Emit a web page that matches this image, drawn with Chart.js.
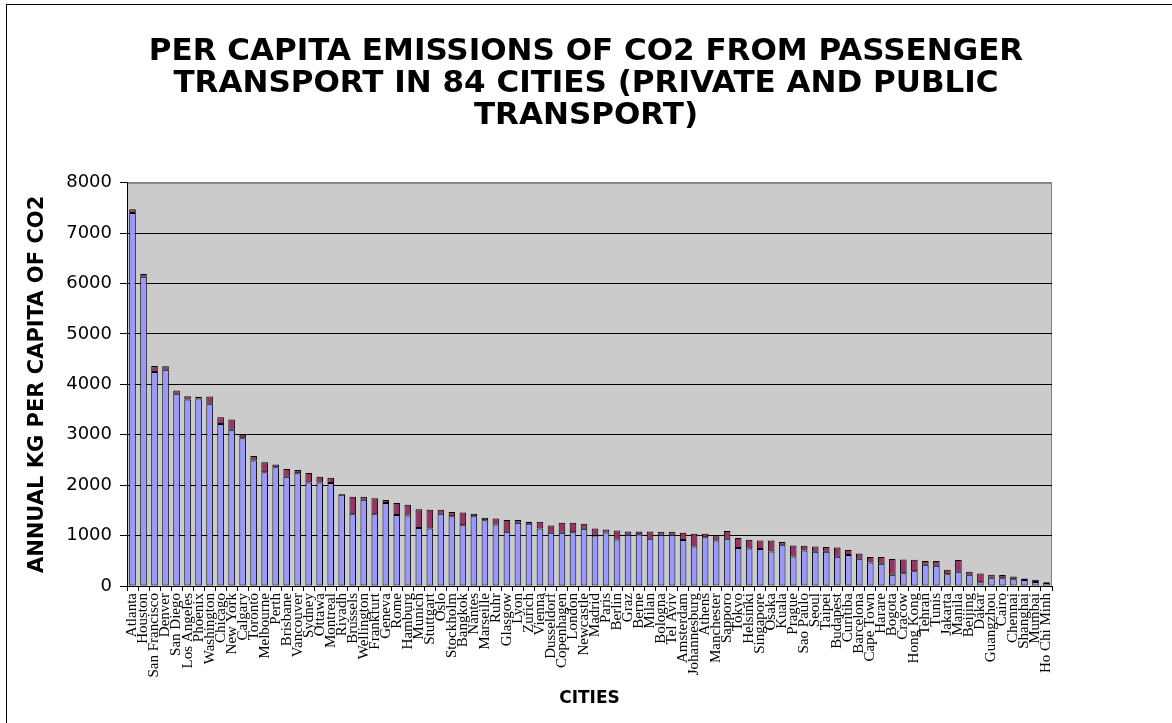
<!DOCTYPE html>
<html>
<head>
<meta charset="utf-8">
<script src="https://cdn.jsdelivr.net/npm/chart.js@4.4.0/dist/chart.umd.min.js"></script>
<style>
  html, body { margin: 0; padding: 0; background: #fff; }
  #wrap { width: 1172px; height: 723px; }
</style>
</head>
<body>
<div id="wrap"><canvas id="co2Chart" width="1172" height="723"></canvas></div>
<script>
// Данные: 84 города, кг CO2 на человека в год
const cities = [
  'Atlanta', 'Houston', 'San Francisco', 'Denver', 'San Diego', 'Los Angeles', 'Phoenix',
  'Washington', 'Chicago', 'New York', 'Calgary', 'Toronto', 'Melbourne', 'Perth',
  'Brisbane', 'Vancouver', 'Sydney', 'Ottawa', 'Montreal', 'Riyadh', 'Brussels',
  'Wellington', 'Frankfurt', 'Geneva', 'Rome', 'Hamburg', 'Munich', 'Stuttgart',
  'Oslo', 'Stockholm', 'Bangkok', 'Nantes', 'Marseille', 'Ruhr', 'Glasgow',
  'Lyon', 'Zurich', 'Vienna', 'Dusseldorf', 'Copenhagen', 'London', 'Newcastle',
  'Madrid', 'Paris', 'Berlin', 'Graz', 'Berne', 'Milan', 'Bologna',
  'Tel Aviv', 'Amsterdam', 'Johannesburg', 'Athens', 'Manchester', 'Sapporo', 'Tokyo',
  'Helsinki', 'Singapore', 'Osaka', 'Kuala', 'Prague', 'Sao Paulo', 'Seoul',
  'Taipei', 'Budapest', 'Curitiba', 'Barcelona', 'Cape Town', 'Harare', 'Bogota',
  'Cracow', 'Hong Kong', 'Tehran', 'Tunis', 'Jakarta', 'Manila', 'Beijing',
  'Dakar', 'Guangzhou', 'Cairo', 'Chennai', 'Shanghai', 'Mumbai', 'Ho Chi Minh'
];

// личный транспорт (нижняя часть столбца)
const privateTransport = [
  7400, 6135, 4245, 4290, 3815, 3700, 3720,
  3615, 3215, 3100, 2930, 2490, 2255, 2355,
  2170, 2235, 2055, 2055, 2045, 1810, 1425,
  1710, 1425, 1645, 1410, 1400, 1150, 1140,
  1435, 1385, 1205, 1385, 1305, 1220, 1075,
  1255, 1235, 1140, 1055, 1055, 1065, 1135,
  1000, 1060, 925, 1015, 1025, 935, 1015,
  1015, 915, 785, 965, 905, 935, 755,
  745, 735, 685, 820, 585, 705, 680,
  680, 580, 615, 540, 465, 440, 225,
  255, 295, 420, 400, 235, 285, 225,
  75, 165, 155, 135, 120, 80, 60
];

// общественный транспорт (верхняя часть)
const publicTransport = [
  75, 55, 120, 70, 65, 65, 35,
  145, 135, 205, 70, 90, 200, 55,
  150, 65, 185, 115, 105, 15, 345,
  60, 315, 60, 235, 210, 375, 375,
  80, 85, 255, 50, 50, 120, 235,
  55, 40, 135, 145, 200, 190, 100,
  140, 60, 175, 65, 55, 145, 60,
  60, 140, 250, 70, 80, 155, 195,
  175, 170, 220, 55, 220, 95, 105,
  95, 185, 100, 105, 110, 135, 310,
  270, 225, 75, 95, 85, 230, 60,
  175, 60, 65, 55, 30, 45, 15
];

const yMin = 0;
const yMax = 8000;
const yStep = 1000;

// Фон области построения и рамка
const plotFrame = {
  id: 'plotFrame',
  beforeDraw(chart) {
    const { ctx, chartArea: a } = chart;
    ctx.save();
    ctx.fillStyle = '#ffffff';
    ctx.fillRect(0, 0, chart.width, chart.height);
    ctx.strokeStyle = '#000000';
    ctx.lineWidth = 1;
    ctx.strokeRect(6.5, 4.5, chart.width + 20, chart.height + 20);
    ctx.fillStyle = '#cbcbcb';
    ctx.fillRect(a.left, a.top, a.right - a.left, a.bottom - a.top);
    ctx.strokeStyle = '#808080';
    ctx.strokeRect(a.left + 0.5, a.top + 0.5, a.right - a.left - 1, a.bottom - a.top);
    ctx.restore();
  }
};

const ctx = document.getElementById('co2Chart').getContext('2d');
new Chart(ctx, {
  type: 'bar',
  data: {
    labels: cities,
    datasets: [
      {
        label: 'Private transport',
        data: privateTransport,
        backgroundColor: '#9999ff',
        borderColor: '#000000',
        borderWidth: 1,
        borderSkipped: false,
        barPercentage: 0.6,
        categoryPercentage: 1
      },
      {
        label: 'Public transport',
        data: publicTransport,
        backgroundColor: '#993366',
        borderColor: '#000000',
        borderWidth: 1,
        borderSkipped: false,
        barPercentage: 0.6,
        categoryPercentage: 1
      }
    ]
  },
  options: {
    responsive: false,
    animation: false,
    layout: { padding: 0 },
    plugins: {
      legend: { display: false },
      tooltip: { enabled: false },
      title: {
        display: true,
        text: [
          'PER CAPITA EMISSIONS OF CO2 FROM PASSENGER',
          'TRANSPORT IN 84 CITIES (PRIVATE AND PUBLIC',
          'TRANSPORT)'
        ],
        color: '#000000',
        font: { family: 'DejaVu Sans', size: 31, weight: 'bold', lineHeight: 1.03 },
        padding: { top: 36, bottom: 51 }
      }
    },
    scales: {
      x: {
        stacked: true,
        grid: {
          drawOnChartArea: false,
          drawTicks: true,
          tickLength: 5,
          color: '#000000',
          offset: true
        },
        border: { color: '#000000' },
        ticks: {
          autoSkip: false,
          minRotation: 90,
          maxRotation: 90,
          padding: 2,
          color: '#000000',
          font: { family: 'Liberation Serif', size: 15 }
        },
        title: {
          display: true,
          text: 'CITIES',
          color: '#000000',
          font: { family: 'DejaVu Sans', size: 17, weight: 'bold' },
          padding: { top: 0, bottom: 14 }
        },
        afterFit(scale) { scale.height = 137; }
      },
      y: {
        stacked: true,
        min: yMin,
        max: yMax,
        grid: {
          color: (c) => (c.tick && c.tick.value === yMax ? '#808080' : '#000000'),
          tickColor: '#000000',
          tickLength: 7
        },
        border: { color: '#000000' },
        ticks: {
          stepSize: yStep,
          padding: 8,
          color: '#000000',
          font: { family: 'DejaVu Sans', size: 18 },
          callback: (v) => String(v)
        },
        title: {
          display: true,
          text: 'ANNUAL KG PER CAPITA OF CO2',
          color: '#000000',
          font: { family: 'DejaVu Sans', size: 21, weight: 'bold' },
          padding: { top: 25, bottom: 0 }
        },
        afterFit(scale) { scale.width = 127; }
      },
      // пустая ось справа — отступ до края рисунка
      side: {
        position: 'right',
        display: true,
        grid: { display: false },
        border: { display: false },
        ticks: { display: false },
        afterFit(scale) { scale.width = 120; }
      }
    }
  },
  plugins: [plotFrame]
});
</script>
</body>
</html>
